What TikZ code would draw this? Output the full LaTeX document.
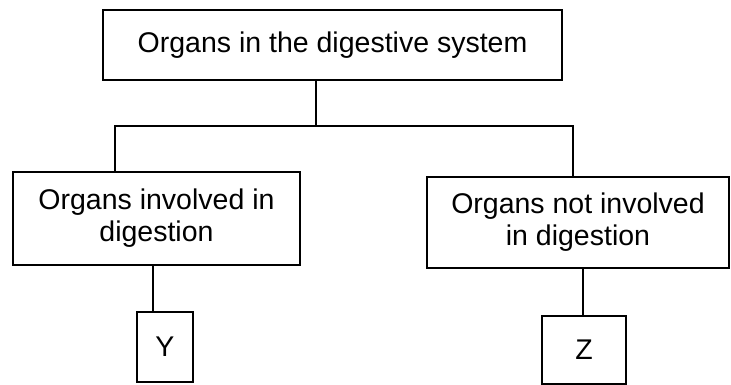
\documentclass[tikz,border=0pt]{standalone}
\usepackage{fontspec}
\setmainfont{Liberation Sans}
\begin{document}
\begin{tikzpicture}[x=1pt,y=1pt,
  box/.style={draw, line width=2.8pt, rectangle, inner sep=0pt, align=center,
    font=\fontsize{28.5}{32}\selectfont},
  conn/.style={line width=2.8pt}]
\useasboundingbox (0,0) rectangle (731,-385);
\node[box, minimum width=459pt, minimum height=70pt] (top) at (332.5,-45) {Organs in the digestive system};
\node[box, minimum width=287pt, minimum height=93pt] (left) at (156.5,-218.5) {Organs involved in\\digestion};
\node[box, minimum width=302pt, minimum height=91pt] (right) at (578,-222.5) {Organs not involved\\in digestion};
\node[box, minimum width=56pt, minimum height=70pt] (Y) at (165,-347) {Y};
\node[box, minimum width=84pt, minimum height=68pt] (Z) at (584,-350) {Z};
\coordinate (j) at (316,-126);
\coordinate (jl) at (115,-126);
\coordinate (jr) at (573,-126);
\coordinate (xl) at (153,0);
\coordinate (xr) at (583,0);
\draw[conn] (top.south -| j) -- (j);
\draw[conn] (left.north -| jl) -- (jl) -- (jr) -- (right.north -| jr);
\draw[conn] (left.south -| xl) -- (Y.north -| xl);
\draw[conn] (right.south -| xr) -- (Z.north -| xr);
\end{tikzpicture}
\end{document}
